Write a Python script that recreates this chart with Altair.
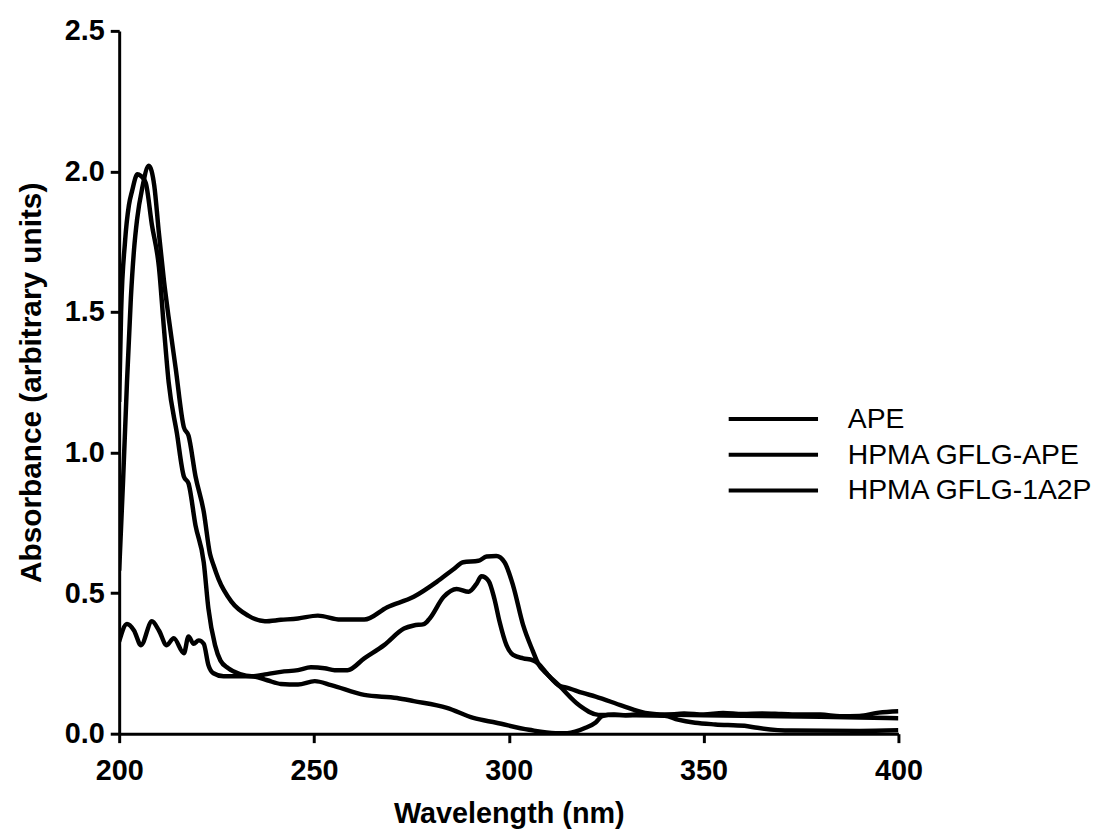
import altair as alt
import pandas as pd

series_names = ["APE", "HPMA GFLG-APE", "HPMA GFLG-1A2P"]

ape_nm = [200.0, 200.5, 201.5, 202.5, 203.3, 204.7, 205.5, 206.8, 208.4, 210.2, 211.5, 212.7,
          214.8, 216.6, 217.8, 219.6, 221.7, 222.9, 224.6, 226.0, 228.0, 231.0, 234.0, 238.0,
          241.5, 245.9, 249.2, 252.7, 255.3, 258.6, 262.9, 268.0, 273.1, 275.6, 278.2, 279.7,
          283.3, 286.6, 289.7, 291.7, 293.0, 294.8, 296.3, 297.6, 299.4, 301.1, 303.7, 306.2,
          307.5, 310.0, 313.0, 318.0, 323.0, 330.0, 340.0, 343.4, 347.8, 353.0, 360.5, 363.8,
          372.5, 390.0, 400.0]
ape_abs = [1.18, 1.50, 1.75, 1.88, 1.93, 1.99, 1.985, 1.96, 1.81, 1.66, 1.44, 1.25,
           1.07, 0.915, 0.89, 0.74, 0.61, 0.445, 0.315, 0.26, 0.233, 0.212, 0.204, 0.212,
           0.22, 0.226, 0.236, 0.233, 0.226, 0.226, 0.268, 0.315, 0.374, 0.385, 0.39, 0.41,
           0.487, 0.515, 0.505, 0.533, 0.56, 0.544, 0.48, 0.40, 0.315, 0.28, 0.268, 0.261,
           0.25, 0.21, 0.17, 0.102, 0.067, 0.066, 0.064, 0.05, 0.039, 0.033, 0.028, 0.021,
           0.011, 0.01, 0.012]

gflg_ape_nm = [200.0, 201.0, 202.0, 203.0, 203.8, 204.6, 205.9, 207.6, 209.0, 210.2, 211.5,
               212.7, 214.5, 216.6, 217.8, 219.6, 221.7, 223.3, 224.2, 225.5, 228.8, 233.1,
               237.4, 241.5, 245.9, 251.0, 256.8, 262.9, 268.8, 275.6, 281.5, 285.8, 288.3,
               292.2, 294.3, 296.8, 298.9, 301.1, 303.7, 306.2, 307.5, 310.0, 313.0, 314.6,
               319.0, 322.3, 329.2, 335.0, 340.0, 350.0, 360.0, 370.0, 380.0, 390.0, 400.0]
gflg_ape_abs = [0.58, 0.90, 1.25, 1.55, 1.72, 1.83, 1.94, 2.02, 1.95, 1.78, 1.61,
                1.48, 1.30, 1.09, 1.06, 0.915, 0.79, 0.64, 0.60, 0.55, 0.47, 0.42,
                0.40, 0.405, 0.41, 0.42, 0.406, 0.406, 0.45, 0.487, 0.54, 0.585, 0.61,
                0.615, 0.63, 0.632, 0.61, 0.527, 0.385, 0.293, 0.25, 0.21, 0.17, 0.165,
                0.145, 0.132, 0.099, 0.074, 0.068, 0.066, 0.064, 0.062, 0.06, 0.058, 0.055]

gflg_1a2p_nm = [200.0, 202.0, 203.8, 205.6, 208.4, 210.2, 212.2, 214.0, 216.6, 217.8, 219.1,
                220.4, 221.7, 222.9, 224.2, 226.8, 234.0, 238.0, 241.5, 245.9, 250.2, 254.4,
                262.9, 271.3, 275.6, 284.1, 290.9, 296.8, 305.2, 312.0, 315.0, 319.7, 322.3,
                324.0, 327.0, 330.0, 335.0, 340.0, 345.0, 350.0, 355.0, 360.0, 365.0, 370.0,
                375.0, 380.0, 385.0, 390.0, 395.0, 400.0]
gflg_1a2p_abs = [0.328, 0.39, 0.367, 0.315, 0.40, 0.367, 0.315, 0.34, 0.286, 0.346, 0.32,
                 0.332, 0.32, 0.244, 0.215, 0.204, 0.204, 0.19, 0.177, 0.175, 0.187, 0.173,
                 0.138, 0.127, 0.116, 0.092, 0.056, 0.039, 0.014, 0.002, 0.002, 0.021, 0.04,
                 0.063, 0.068, 0.066, 0.07, 0.066, 0.072, 0.068, 0.074, 0.07, 0.072, 0.07,
                 0.068, 0.068, 0.062, 0.063, 0.075, 0.08]

x_ticks = [200, 250, 300, 350, 400]
y_ticks = [0.0, 0.5, 1.0, 1.5, 2.0, 2.5]

rows = []
for name, xs, ys in [(series_names[0], ape_nm, ape_abs),
                     (series_names[1], gflg_ape_nm, gflg_ape_abs),
                     (series_names[2], gflg_1a2p_nm, gflg_1a2p_abs)]:
    for xv, yv in zip(xs, ys):
        rows.append({"series": name, "wavelength": xv, "absorbance": yv})
df = pd.DataFrame(rows)

FONT = "Liberation Sans"

chart = alt.Chart(df).mark_line(strokeWidth=4.5, interpolate="monotone", clip=True).encode(
    x=alt.X("wavelength:Q", title="Wavelength (nm)",
            scale=alt.Scale(domain=[200, 400], nice=False, zero=False),
            axis=alt.Axis(values=x_ticks, format="d", grid=False, titlePadding=14,
                          labelPadding=14, labelFlush=False)),
    y=alt.Y("absorbance:Q", title="Absorbance (arbitrary units)",
            scale=alt.Scale(domain=[0, 2.5], nice=False),
            axis=alt.Axis(values=y_ticks, format=".1f", grid=False, titlePadding=18,
                          labelPadding=6, labelFlush=False, titleFontSize=30)),
    color=alt.Color("series:N",
                    scale=alt.Scale(domain=series_names, range=["#000000"] * 3),
                    legend=alt.Legend(title=None, orient="none", legendX=612, legendY=373,
                                      symbolType="stroke", symbolSize=8100,
                                      symbolStrokeWidth=4, labelFont=FONT,
                                      labelFontSize=28.5, labelColor="#000000",
                                      labelOffset=28, clipHeight=36, rowPadding=0,
                                      padding=0, labelLimit=400)),
).properties(
    width=785, height=708,
    autosize=alt.AutoSizeParams(type="none"),
    padding={"left": 112, "top": 20, "right": 196, "bottom": 99},
).configure_axis(
    domainColor="#000000", domainWidth=3, tickColor="#000000", tickWidth=3, tickSize=9,
    labelFont=FONT, labelFontSize=29, labelFontWeight="bold", labelColor="#000000",
    titleFont=FONT, titleFontSize=29, titleFontWeight="bold", titleColor="#000000",
).configure_view(stroke=None)

chart.save("out.html", embed_options={"renderer": "svg", "actions": False})
